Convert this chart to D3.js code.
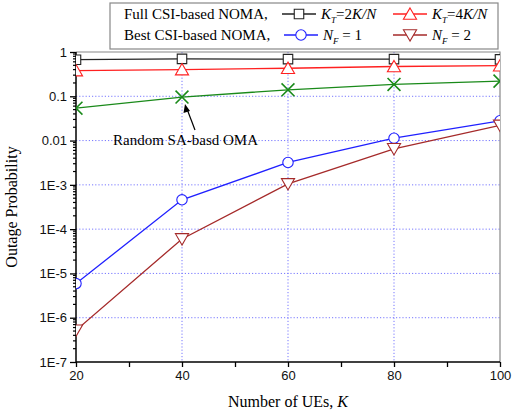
<!DOCTYPE html>
<html>
<head>
<meta charset="utf-8">
<script src="https://cdn.jsdelivr.net/npm/d3@7"></script>
<style>
  body { margin: 0; background: #fff; }
  svg { display: block; }
</style>
</head>
<body>
<div id="chart"></div>
<script>
// data
var users = [20, 40, 60, 80, 100];
var fullCsi2 = [0.67, 0.70, 0.69, 0.69, 0.68];      // K_T = 2K/N
var fullCsi4 = [0.38, 0.40, 0.43, 0.47, 0.49];      // K_T = 4K/N
var bestCsi1 = [5.9e-6, 4.6e-4, 3.2e-3, 0.0113, 0.028]; // N_F = 1
var bestCsi2 = [5.2e-7, 6.0e-5, 1.05e-3, 6.5e-3, 0.022]; // N_F = 2
var randomOma = [0.054, 0.096, 0.14, 0.185, 0.22];
var yTicks = [1, 0.1, 0.01, 1e-3, 1e-4, 1e-5, 1e-6, 1e-7];
var yTickLabels = ["1", "0.1", "0.01", "1E-3", "1E-4", "1E-5", "1E-6", "1E-7"];
var xTicks = [20, 40, 60, 80, 100];

var WIDTH = 512, HEIGHT = 416;
// plot box edges (note: "top" clashes with window.top, so prefixed names)
var pLeft = 76, pRight = 500, pTop = 52, pBottom = 362;

var svg = d3.select("#chart").append("svg")
    .attr("width", WIDTH)
    .attr("height", HEIGHT);

var x = d3.scaleLinear().domain([20, 100]).range([pLeft, pRight]);
var y = d3.scaleLog().domain([1e-7, 1]).range([pBottom, pTop]);

svg.append("defs").append("clipPath").attr("id", "plotclip")
  .append("rect")
    .attr("x", pLeft).attr("y", pTop)
    .attr("width", pRight - pLeft).attr("height", pBottom - pTop);

// dotted grid
var grid = svg.append("g");
grid.selectAll("line.h")
    .data(yTicks.filter(function(d) { return d < 1 && d > 1e-7; }))
    .enter().append("line")
    .attr("x1", pLeft).attr("x2", pRight)
    .attr("y1", function(d) { return y(d); })
    .attr("y2", function(d) { return y(d); })
    .style("stroke", "#7777ff").style("stroke-dasharray", "1.2,2").style("stroke-width", 1);
grid.selectAll("line.v")
    .data([40, 60, 80])
    .enter().append("line")
    .attr("y1", pTop).attr("y2", pBottom)
    .attr("x1", function(d) { return x(d); })
    .attr("x2", function(d) { return x(d); })
    .style("stroke", "#7777ff").style("stroke-dasharray", "1.2,2").style("stroke-width", 1);

// top and right frame
svg.append("path")
    .attr("d", "M" + pLeft + "," + pTop + "H" + pRight + "V" + pBottom)
    .style("fill", "none").style("stroke", "#888").style("stroke-width", 1.2);

// axes
var xAxis = d3.axisBottom(x)
    .tickValues(d3.range(20, 101, 10))
    .tickSize(5)
    .tickFormat(function(d) { return xTicks.indexOf(d) >= 0 ? d : ""; });
var gx = svg.append("g").attr("transform", "translate(0," + pBottom + ")").call(xAxis);
gx.selectAll(".tick line").attr("stroke-width", 1.3);
gx.selectAll("text").style("font-family", "Liberation Sans, Arial, sans-serif")
    .style("font-size", "13px").attr("y", 9).attr("fill", "#111");
gx.select(".domain").attr("stroke-width", 1.5).attr("d", "M" + pLeft + ",0H" + pRight);

var yMinor = [];
for (var e = -7; e < 0; e++) {
  for (var m = 2; m <= 9; m++) yMinor.push(m * Math.pow(10, e));
}
var gy = svg.append("g").attr("transform", "translate(" + pLeft + ",0)");
gy.selectAll("line.minor").data(yMinor).enter().append("line")
    .attr("x1", -3).attr("x2", 0)
    .attr("y1", function(d) { return y(d); }).attr("y2", function(d) { return y(d); })
    .style("stroke", "#000").style("stroke-width", 1.2);
gy.call(d3.axisLeft(y).tickValues(yTicks).tickSize(6)
    .tickFormat(function(d, i) { return yTickLabels[i]; }));
gy.selectAll(".tick line").attr("stroke-width", 1.3);
gy.selectAll("text").style("font-family", "Liberation Sans, Arial, sans-serif")
    .style("font-size", "13px").attr("x", -9).attr("fill", "#111");
gy.select(".domain").attr("stroke-width", 1.5).attr("d", "M0," + pTop + "V" + pBottom);

// series
var series = [
  {values: fullCsi2, color: "#222", marker: "square"},
  {values: fullCsi4, color: "#ff2020", marker: "triangle"},
  {values: randomOma, color: "#1a8a1a", marker: "cross"},
  {values: bestCsi1, color: "#2020ff", marker: "circle"},
  {values: bestCsi2, color: "#a52a2a", marker: "down"}
];

var line = d3.line()
    .x(function(d, i) { return x(users[i]); })
    .y(function(d) { return y(d); });

var symbols = {
  square: d3.symbol().type(d3.symbolSquare).size(90),
  triangle: d3.symbol().type(d3.symbolTriangle).size(75),
  circle: d3.symbol().type(d3.symbolCircle).size(85),
  cross: d3.symbol().type(d3.symbolX).size(110),
  down: d3.symbol().type(d3.symbolTriangle).size(75)
};

var plot = svg.append("g").attr("clip-path", "url(#plotclip)");

function drawMarker(g, s, cx, cy) {
  var rot = s.marker === "down" ? " rotate(180)" : "";
  var dy = s.marker === "triangle" ? 1.5 : (s.marker === "down" ? -1.5 : 0);
  g.append("path")
    .attr("d", symbols[s.marker]())
    .attr("transform", "translate(" + cx + "," + (cy + dy) + ")" + rot)
    .style("fill", s.marker === "cross" ? "none" : "#fff")
    .style("stroke", s.color)
    .style("stroke-width", s.marker === "cross" ? 1.6 : 1.1);
}

series.forEach(function(s) {
  plot.append("path")
    .datum(s.values)
    .attr("d", line)
    .style("fill", "none")
    .style("stroke", s.color)
    .style("stroke-width", 1.3);
  s.values.forEach(function(v, i) {
    drawMarker(plot, s, x(users[i]), y(v));
  });
});

// annotation
svg.append("text")
    .attr("x", 113).attr("y", 145)
    .style("font-family", "Liberation Serif, Times New Roman, serif")
    .style("font-size", "15px")
    .text("Random SA-basd OMA");
svg.append("line")
    .attr("x1", 195).attr("y1", 130).attr("x2", 187).attr("y2", 109)
    .style("stroke", "#000").style("stroke-width", 1.2);
svg.append("path")
    .attr("d", "M185,104 L183.5,113 L190,111 Z")
    .style("fill", "#000");

// legend
var lg = svg.append("g");
lg.append("rect")
    .attr("x", 110).attr("y", 3).attr("width", 388).attr("height", 46)
    .style("fill", "#fff").style("stroke", "#888").style("stroke-width", 1.2);

var serif = "Liberation Serif, Times New Roman, serif";
var legendRows = ["Full CSI-based NOMA,", "Best CSI-based NOMA,"];
lg.selectAll("text.row").data(legendRows).enter().append("text")
    .attr("x", 124).attr("y", function(d, i) { return 19 + i * 21; })
    .style("font-family", serif).style("font-size", "15px")
    .text(function(d) { return d; });

var legendItems = [
  {s: series[0], lx: 282, row: 0, sym: "K", sub: "T", rest: "=2K/N"},
  {s: series[1], lx: 393, row: 0, sym: "K", sub: "T", rest: "=4K/N"},
  {s: series[3], lx: 284, row: 1, sym: "N", sub: "F", rest: " = 1"},
  {s: series[4], lx: 393, row: 1, sym: "N", sub: "F", rest: " = 2"}
];
legendItems.forEach(function(it) {
  var cy = 14 + it.row * 21;
  lg.append("line")
    .attr("x1", it.lx).attr("x2", it.lx + 34)
    .attr("y1", cy).attr("y2", cy)
    .style("stroke", it.s.color).style("stroke-width", 1.3);
  drawMarker(lg, it.s, it.lx + 17, cy);
  var t = lg.append("text")
    .attr("x", it.lx + 39).attr("y", cy + 5)
    .style("font-family", serif).style("font-size", "15px");
  t.append("tspan").style("font-style", "italic").text(it.sym);
  t.append("tspan").style("font-style", "italic").style("font-size", "9px")
    .attr("dy", 4).text(it.sub);
  var r = t.append("tspan").attr("dy", -4);
  if (it.rest.indexOf("K/N") >= 0) {
    r.text(it.rest.slice(0, 2));
    t.append("tspan").style("font-style", "italic").text("K/N");
  } else {
    r.text(it.rest);
  }
});

// axis titles
var xt = svg.append("text")
    .attr("x", (pLeft + pRight) / 2).attr("y", 407)
    .attr("text-anchor", "middle")
    .style("font-family", serif).style("font-size", "16px");
xt.append("tspan").text("Number of UEs, ");
xt.append("tspan").style("font-style", "italic").text("K");

svg.append("text")
    .attr("transform", "translate(17," + ((pTop + pBottom) / 2) + ") rotate(-90)")
    .attr("text-anchor", "middle")
    .style("font-family", serif).style("font-size", "16px")
    .text("Outage Probability");
</script>
</body>
</html>
